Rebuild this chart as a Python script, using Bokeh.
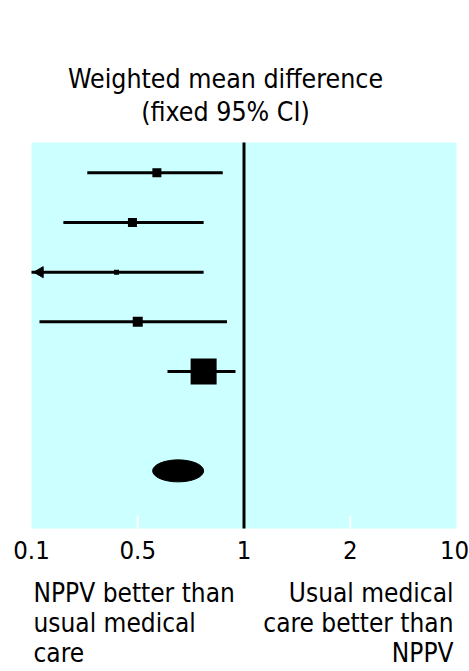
import numpy as np
from bokeh.plotting import figure
from bokeh.models import Range1d, ColumnDataSource
from bokeh.core.properties import value
from bokeh.embed import file_html
from bokeh.resources import INLINE

# ---------------- data ----------------
tick_values = [0.1, 0.5, 1, 2, 10]
tick_labels = ["0.1", "0.5", "1", "2", "10"]

row_index = [1, 2, 3, 4, 5]
estimate = [0.59, 0.48, 0.42, 0.50, 0.81]
ci_low = [0.31, 0.22, 0.08, 0.13, 0.64]
ci_high = [0.90, 0.81, 0.81, 0.92, 0.96]
weight_px = [9, 9, 5, 10, 26]

pooled_row = 7
pooled_estimate = 0.69
pooled_low = 0.57
pooled_high = 0.81

null_value = 1

title_lines = ["Weighted mean difference", "(fixed 95% CI)"]
left_note = ["NPPV better than", "usual medical", "care"]
right_note = ["Usual medical", "care better than", "NPPV"]

# ---------------- layout (page pixels) ----------------
FONT = "DejaVu Sans Condensed"
FS = "26px"
W, H = 469, 671
PANEL_L, PANEL_R = 31, 456
PANEL_T, PANEL_B = 142, 528
Y_TOP, Y_BOT = 0.39, 8.16               # row units shown inside the panel
PPU = (PANEL_B - PANEL_T) / (Y_BOT - Y_TOP)
SHIFT = 12                              # renderer baseline correction (px)

tick_pos = list(range(len(tick_values)))
PPX = (PANEL_R - PANEL_L) / (len(tick_values) - 1)


def to_axis(v):
    return np.interp(v, tick_values, tick_pos)


def X(px):
    return (px - PANEL_L) / PPX


def Y(py):
    return Y_TOP + (py - PANEL_T) / PPU


def YT(base):
    return Y(base - SHIFT)


p = figure(width=W, height=H, output_backend="svg", toolbar_location=None,
           x_range=Range1d(X(0), X(W)), y_range=Range1d(Y(H), Y(0)),
           x_axis_location=None, y_axis_location=None,
           min_border=0)
p.background_fill_color = "white"
p.border_fill_color = "white"
p.outline_line_color = None
p.grid.visible = False

# panel
p.quad(left=[tick_pos[0]], right=[tick_pos[-1]], top=[Y_TOP], bottom=[Y_BOT],
       fill_color="#ccffff", line_color=None)

# inner white tick marks
inner = tick_pos[1:-1]
p.segment(x0=inner, x1=inner, y0=[Y(515)] * len(inner), y1=[Y_BOT] * len(inner),
          line_color="white", line_width=2)

# null line
nx = float(to_axis(null_value))
p.segment(x0=[nx], x1=[nx], y0=[Y_TOP], y1=[Y_BOT], line_color="black", line_width=3)

# studies
src = ColumnDataSource(dict(
    y=row_index,
    est=to_axis(estimate),
    lo=to_axis(ci_low),
    hi=to_axis(ci_high),
    size=weight_px,
))
p.segment(x0="lo", x1="hi", y0="y", y1="y", source=src, line_color="black", line_width=3)
p.scatter(x="est", y="y", size="size", marker="square", source=src,
          fill_color="black", line_color="black", line_width=0)

# arrows for truncated intervals
trunc = [i for i, lo in enumerate(ci_low) if lo < tick_values[0]]
p.scatter(x=[float(to_axis(ci_low[i])) + 0.08 for i in trunc],
          y=[row_index[i] for i in trunc], marker="triangle", angle=np.pi / 2,
          size=11, fill_color="black", line_color="black")

# pooled estimate
p.ellipse(x=[float(to_axis(pooled_estimate))], y=[pooled_row],
          width=[float(to_axis(pooled_high) - to_axis(pooled_low))], height=[22],
          height_units="screen", fill_color="black", line_color="black")

# tick labels (last one nudged so it stays inside the page)
tick_src = ColumnDataSource(dict(
    x=tick_pos, y=[YT(561)] * len(tick_pos), text=tick_labels,
    dx=[0] * (len(tick_pos) - 1) + [-2],
))
p.text(x="x", y="y", text="text", x_offset="dx", source=tick_src,
       text_align="center", text_baseline="alphabetic",
       text_font=value(FONT), text_font_size="25.5px", text_color="black")

# title
p.text(x=[X(225)] * 2, y=[YT(90), YT(123)], text=title_lines,
       text_align="center", text_baseline="alphabetic",
       text_font=value(FONT), text_font_size="26.5px", text_color="black")

# notes
bases = [604, 634, 664]
p.text(x=[X(33)] * 3, y=[YT(b) for b in bases], text=left_note,
       text_align="left", text_baseline="alphabetic",
       text_font=value(FONT), text_font_size=FS, text_color="black")
p.text(x=[X(453)] * 3, y=[YT(b) for b in bases], text=right_note,
       text_align="right", text_baseline="alphabetic",
       text_font=value(FONT), text_font_size=FS, text_color="black")

open("out.html", "w").write(file_html(p, INLINE))
